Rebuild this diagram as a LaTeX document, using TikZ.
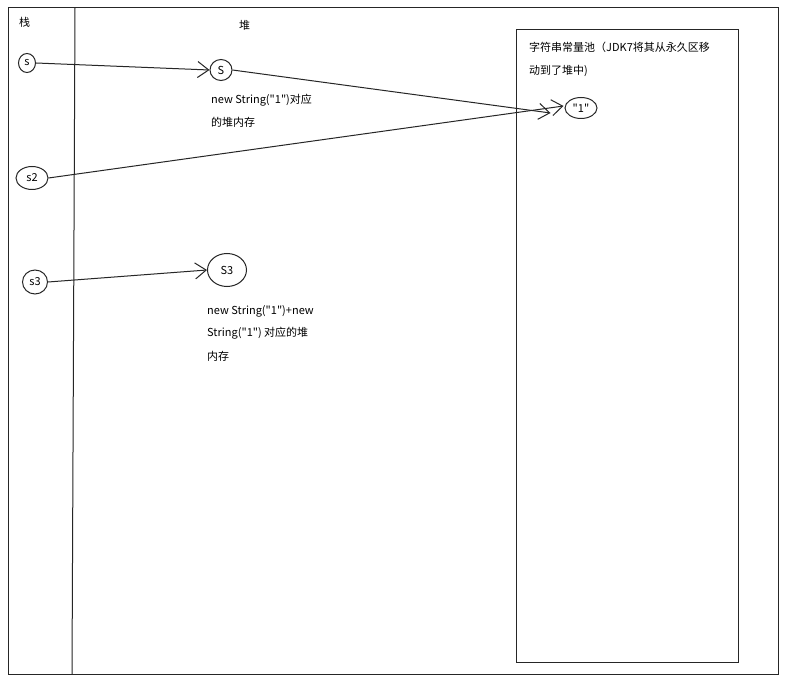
\documentclass[tikz,border=0pt]{standalone}
\usepackage{fontspec}
\setmainfont{Noto Sans CJK SC}[Ligatures=TeXOff]
\usetikzlibrary{shapes.geometric,arrows.meta}
\begin{document}
\begin{tikzpicture}[x=1pt,y=-1pt,
  ln/.style={line width=1pt,draw=black!85},
  ref/.style={ln,-{Straight Barb[length=11pt,width=16pt,line width=1pt]}},
  obj/.style={ellipse,ln,inner sep=0pt,font=\fontsize{11}{13}\selectfont},
  txt/.style={anchor=west,inner sep=0pt,font=\fontsize{11}{13}\selectfont}]
\useasboundingbox[fill=white] (0,0) rectangle (792,684);
% frames
\draw[ln] (8,8) rectangle (778,674);
\draw[ln] (75,8) -- (72,674);
\draw[ln] (516,30) rectangle (738,662);
% labels
\node[txt] (stack) at (19,22) {栈};
\node[txt] (heap) at (239,25) {堆};
\node[txt] (pool1) at (529,47) {字符串常量池（JDK7将其从永久区移};
\node[txt] (pool2) at (529,71) {动到了堆中)};
% objects
\node[obj,minimum width=17pt,minimum height=19pt] (s) at (27,63) {s};
\node[obj,minimum width=32pt,minimum height=23pt] (s2) at (32,178) {s2};
\node[obj,minimum width=25pt,minimum height=24pt] (s3) at (35,282) {s3};
\node[obj,minimum width=22pt,minimum height=21pt] (S) at (221,70) {S};
\node[obj,minimum width=39pt,minimum height=33pt] (S3) at (227,270) {S3};
\node[obj,minimum width=32pt,minimum height=21pt,inner sep=0pt] (one) at (581,108) {"1"};
% descriptions
\node[txt] (d1a) at (211,100) {new String("1")对应};
\node[txt] (d1b) at (211,122) {的堆内存};
\node[txt] (d3a) at (207,311) {new String("1")+new};
\node[txt] (d3b) at (207,333) {String("1") 对应的堆};
\node[txt] (d3c) at (207,356) {内存};
% references
\draw[ref] (s.east) -- (S.west);
\draw[ref] (S.east) -- ([xshift=-14pt,yshift=-5pt]one.west);
\draw[ref] (s2.east) -- ([xshift=-1pt,yshift=2pt]one.west);
\draw[ref] (s3.east) -- (S3.west);
\end{tikzpicture}
\end{document}
